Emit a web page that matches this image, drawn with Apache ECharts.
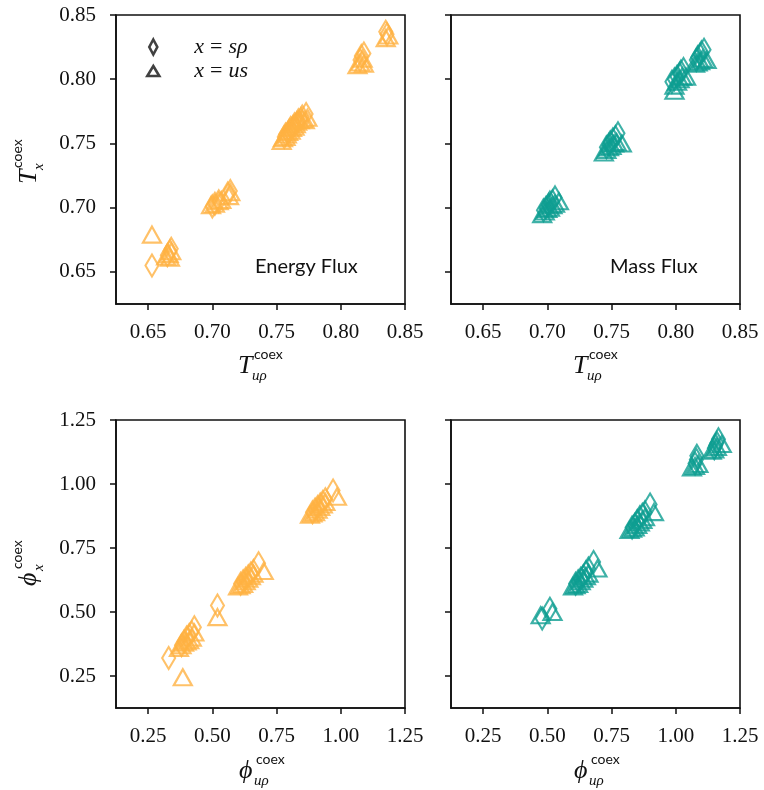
<!DOCTYPE html>
<html>
<head>
<meta charset="utf-8">
<script src="https://cdn.jsdelivr.net/npm/echarts@6/dist/echarts.min.js"></script>
<style>
html, body { margin: 0; background: #fff; }
#main { width: 764px; height: 790px; }
</style>
</head>
<body>
<div id="main"></div>
<script>
// ---- data: [x_uρ, x_value] ----
const energyT_srho = [
  [0.653, 0.655],
  [0.665, 0.663], [0.667, 0.666], [0.668, 0.668],
  [0.700, 0.701], [0.702, 0.703], [0.705, 0.705], [0.712, 0.711], [0.714, 0.713],
  [0.756, 0.755], [0.757, 0.757], [0.759, 0.758], [0.760, 0.760], [0.761, 0.762], [0.763, 0.763],
  [0.764, 0.765], [0.766, 0.766], [0.767, 0.768], [0.769, 0.769], [0.770, 0.771], [0.773, 0.773],
  [0.815, 0.815], [0.816, 0.818], [0.818, 0.820],
  [0.835, 0.837], [0.836, 0.835]
]
const energyT_us = [
  [0.653, 0.679],
  [0.664, 0.662], [0.666, 0.664], [0.668, 0.666], [0.667, 0.661],
  [0.699, 0.702], [0.702, 0.703], [0.705, 0.705], [0.707, 0.706], [0.713, 0.709], [0.714, 0.712],
  [0.754, 0.752], [0.755, 0.754], [0.757, 0.755], [0.758, 0.757], [0.759, 0.759], [0.761, 0.760],
  [0.762, 0.762], [0.764, 0.763], [0.765, 0.765], [0.766, 0.767], [0.768, 0.768], [0.770, 0.769],
  [0.772, 0.768], [0.774, 0.770],
  [0.813, 0.811], [0.815, 0.813], [0.818, 0.812], [0.817, 0.816],
  [0.835, 0.832], [0.837, 0.834]
]
const massT_srho = [
  [0.697, 0.698], [0.699, 0.700], [0.701, 0.702], [0.702, 0.704], [0.704, 0.705], [0.706, 0.708],
  [0.746, 0.747], [0.748, 0.749], [0.749, 0.751], [0.751, 0.753], [0.753, 0.755], [0.755, 0.758],
  [0.797, 0.798], [0.799, 0.800], [0.801, 0.802], [0.803, 0.804], [0.804, 0.806], [0.806, 0.808],
  [0.816, 0.815], [0.817, 0.817], [0.819, 0.819], [0.820, 0.821], [0.822, 0.823]
]
const massT_us = [
  [0.696, 0.695], [0.698, 0.697], [0.700, 0.699], [0.702, 0.700], [0.704, 0.702], [0.706, 0.703], [0.709, 0.705],
  [0.744, 0.743], [0.746, 0.745], [0.748, 0.747], [0.750, 0.748], [0.752, 0.750], [0.754, 0.751], [0.758, 0.750],
  [0.799, 0.791], [0.799, 0.795], [0.801, 0.798], [0.803, 0.800], [0.805, 0.802], [0.808, 0.802],
  [0.815, 0.812], [0.817, 0.813], [0.819, 0.814], [0.821, 0.816], [0.824, 0.815]
]
const energyPhi_srho = [
  [0.33, 0.32],
  [0.38, 0.37], [0.39, 0.385], [0.40, 0.40], [0.41, 0.41], [0.42, 0.42], [0.43, 0.44],
  [0.52, 0.525],
  [0.61, 0.61], [0.62, 0.62], [0.63, 0.63], [0.64, 0.64], [0.65, 0.65], [0.66, 0.66], [0.68, 0.69],
  [0.89, 0.89], [0.90, 0.90], [0.91, 0.91], [0.92, 0.92], [0.93, 0.93], [0.94, 0.94], [0.97, 0.975]
]
const energyPhi_us = [
  [0.385, 0.245],
  [0.37, 0.36], [0.38, 0.37], [0.39, 0.38], [0.40, 0.385], [0.41, 0.39], [0.42, 0.40], [0.43, 0.42],
  [0.52, 0.48],
  [0.60, 0.60], [0.61, 0.605], [0.62, 0.61], [0.63, 0.62], [0.64, 0.63], [0.65, 0.64], [0.66, 0.65], [0.70, 0.66],
  [0.88, 0.88], [0.89, 0.885], [0.90, 0.89], [0.91, 0.90], [0.92, 0.91], [0.93, 0.92], [0.94, 0.93], [0.985, 0.95]
]
const massPhi_srho = [
  [0.48, 0.475], [0.51, 0.513],
  [0.61, 0.61], [0.62, 0.62], [0.63, 0.63], [0.64, 0.64], [0.65, 0.655], [0.66, 0.67], [0.68, 0.695],
  [0.83, 0.83], [0.84, 0.84], [0.85, 0.855], [0.86, 0.87], [0.87, 0.88], [0.88, 0.89], [0.90, 0.92],
  [1.075, 1.08], [1.08, 1.095], [1.082, 1.11],
  [1.15, 1.14], [1.155, 1.15], [1.16, 1.16], [1.166, 1.175]
]
const massPhi_us = [
  [0.474, 0.487], [0.52, 0.50],
  [0.60, 0.60], [0.61, 0.605], [0.62, 0.61], [0.63, 0.62], [0.64, 0.63], [0.65, 0.64], [0.66, 0.65], [0.695, 0.67],
  [0.82, 0.82], [0.83, 0.825], [0.84, 0.83], [0.85, 0.84], [0.86, 0.85], [0.87, 0.86], [0.88, 0.87], [0.915, 0.89],
  [1.063, 1.065], [1.075, 1.07], [1.088, 1.078],
  [1.14, 1.13], [1.15, 1.135], [1.16, 1.145], [1.179, 1.156]
]
const tTicks = [0.65, 0.70, 0.75, 0.80, 0.85]
const phiTicks = [0.25, 0.50, 0.75, 1.00, 1.25]

const ORANGE = '#FFB142'
const TEAL = '#0E9E91'
const INK = '#111'
const SERIF = '"Liberation Serif", "DejaVu Serif", serif'
const SANS = 'Lato, "Noto Sans", sans-serif'

const chart = echarts.init(document.getElementById('main'))

const grids = [
  {left: 116, top: 15, width: 289, height: 289},
  {left: 451, top: 15, width: 289, height: 289},
  {left: 116, top: 420, width: 289, height: 288},
  {left: 451, top: 420, width: 289, height: 288}
].map(g => Object.assign(g, {show: true, borderColor: INK, borderWidth: 1.6, backgroundColor: '#fff'}))

function axis(gi, min, max, ticks, showLabel, margin) {
  return {
    type: 'value', gridIndex: gi, min: min, max: max,
    axisLine: {show: true, onZero: false, lineStyle: {color: INK, width: 1.6}},
    axisTick: {show: true, inside: false, length: 6, lineStyle: {color: INK, width: 1.5}, customValues: ticks},
    axisLabel: {show: showLabel, customValues: ticks, margin: margin, color: INK,
      fontFamily: SERIF, fontSize: 21, formatter: v => v.toFixed(2)},
    splitLine: {show: false}
  }
}

const xAxes = [
  axis(0, 0.625, 0.85, tTicks, true, 18),
  axis(1, 0.625, 0.85, tTicks, true, 18),
  axis(2, 0.125, 1.25, phiTicks, true, 18),
  axis(3, 0.125, 1.25, phiTicks, true, 18)
]
const yAxes = [
  axis(0, 0.625, 0.85, tTicks, true, 20),
  axis(1, 0.625, 0.85, tTicks, false, 20),
  axis(2, 0.125, 1.25, phiTicks, true, 20),
  axis(3, 0.125, 1.25, phiTicks, false, 20)
]

function ser(name, gi, data, color) {
  const isD = name === 'x = sρ'
  return {
    name: name, type: 'scatter', xAxisIndex: gi, yAxisIndex: gi, data: data,
    symbol: isD ? 'diamond' : 'triangle',
    symbolSize: isD ? [13, 22] : [18, 16],
    itemStyle: {color: 'rgba(0,0,0,0)', borderColor: color, borderWidth: 2.2},
    emphasis: {disabled: true}
  }
}

// math-style axis titles: base glyph, superscript "coex", subscript
function mathLabel(x, y, base, sub, rotated) {
  const off = base === 'T' ? 15 : 16
  return {
    type: 'group', x: x, y: y, rotation: rotated ? Math.PI / 2 : 0,
    children: [
      {type: 'text', style: {text: base, x: 0, y: 0, fill: INK, font: 'italic 26px ' + SERIF, verticalAlign: 'middle'}},
      {type: 'text', style: {text: 'coex', x: off + 1, y: -12, fill: INK, font: '14px ' + SANS, verticalAlign: 'middle'}},
      {type: 'text', style: {text: sub, x: off - 1, y: 10, fill: INK, font: 'italic 15px ' + SERIF, verticalAlign: 'middle'}}
    ]
  }
}

const legendRich = {
  sp: {width: 30},
  m: {fontFamily: SERIF, fontStyle: 'italic', fontSize: 22, color: INK, lineHeight: 20},
  r: {fontFamily: SERIF, fontSize: 22, color: INK, lineHeight: 20, padding: [0, 6]}
}

chart.setOption({
  animation: false,
  grid: grids,
  xAxis: xAxes,
  yAxis: yAxes,
  legend: {
    orient: 'vertical', left: 141, top: 31, padding: 5, itemWidth: 12, itemHeight: 15, itemGap: 2,
    selectedMode: false,
    data: [
      {name: 'x = sρ', icon: 'path://M4,0L8,7.5L4,15L0,7.5Z', itemStyle: {color: 'rgba(0,0,0,0)', borderColor: INK, borderWidth: 2.6}},
      {name: 'x = us', icon: 'path://M6,0L12,10L0,10Z', itemStyle: {color: 'rgba(0,0,0,0)', borderColor: INK, borderWidth: 2.6}}
    ],
    formatter: n => n === 'x = sρ' ? '{sp|}{m|x}{r|=}{m|sρ}' : '{sp|}{m|x}{r|=}{m|us}',
    textStyle: {rich: legendRich}
  },
  series: [
    ser('x = sρ', 0, energyT_srho, ORANGE), ser('x = us', 0, energyT_us, ORANGE),
    ser('x = sρ', 1, massT_srho, TEAL), ser('x = us', 1, massT_us, TEAL),
    ser('x = sρ', 2, energyPhi_srho, ORANGE), ser('x = us', 2, energyPhi_us, ORANGE),
    ser('x = sρ', 3, massPhi_srho, TEAL), ser('x = us', 3, massPhi_us, TEAL)
  ],
  graphic: [
    {type: 'text', left: 255, top: 257, style: {text: 'Energy Flux', fill: INK, font: '20px ' + SANS}},
    {type: 'text', left: 610, top: 257, style: {text: 'Mass Flux', fill: INK, font: '20px ' + SANS}},
    mathLabel(238, 366, 'T', 'uρ', false),
    mathLabel(573, 366, 'T', 'uρ', false),
    mathLabel(239, 771, 'ϕ', 'uρ', false),
    mathLabel(574, 771, 'ϕ', 'uρ', false),
    mathLabel(29, 184, 'T', 'x', true),
    mathLabel(29, 586, 'ϕ', 'x', true)
  ]
})
</script>
</body>
</html>
